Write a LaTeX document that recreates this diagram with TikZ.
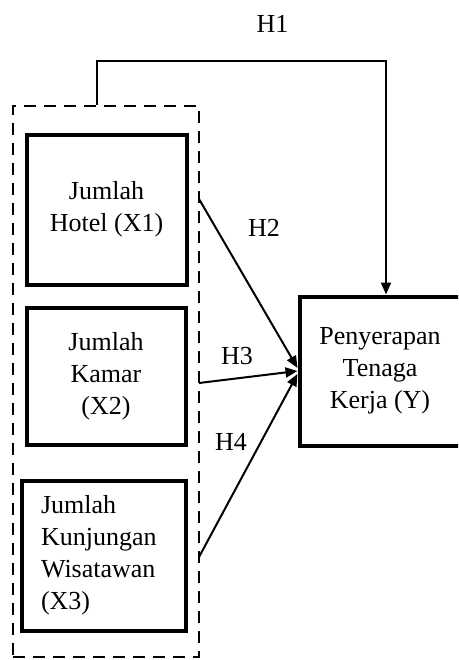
\documentclass[tikz,border=0pt]{standalone}
\usepackage{fontspec}
\setmainfont{Liberation Serif}
\usetikzlibrary{arrows.meta, calc}

\tikzset{
  box/.style={draw, line width=3pt, align=center, inner sep=0pt},
  grpbox/.style={draw, dash pattern=on 9pt off 6pt, line width=1.8pt},
  conn/.style={line width=1.5pt, -{Triangle[length=9pt,width=7.5pt]}},
  hlabel/.style={inner sep=0pt}
}

\begin{document}
\begin{tikzpicture}[x=0.75pt,y=0.75pt,yscale=-1,xscale=1, font=\fontsize{19.5}{24}\selectfont]
  \useasboundingbox (0,0) rectangle (458,660);
  \clip (0,0) rectangle (458,660);
  % kelompok variabel X (garis putus-putus)
  \node [grpbox, minimum width=139.5pt, minimum height=413.25pt] (grp) at (106,381.5) {};
  % variabel X
  \node [box, minimum width=120pt, minimum height=112.5pt] (x1) at (106.5,209.5) {Jumlah\\Hotel (X1)};
  \node [box, minimum width=119.25pt, minimum height=102.75pt] (x2) at (106,376) {Jumlah\\Kamar\\(X2)};
  \node [box, align=left, text width=94.5pt, inner xsep=13.9pt, minimum height=112.5pt] (x3) at (104,555.5) {Jumlah\\Kunjungan\\Wisatawan\\(X3)};
  % variabel Y
  \node [box, minimum width=120.75pt, minimum height=111.75pt] (y) at (380,371) {Penyerapan\\Tenaga\\Kerja (Y)};
  % titik bantu
  \coordinate (h1l) at (97,61);
  \coordinate (h1r) at (386,61);
  \coordinate (s2) at (199,199);
  \coordinate (s3) at (199,383);
  \coordinate (s4) at (199,557);
  % panah
  \draw [conn] (grp.north -| h1l) -- (h1l) -- (h1r) -- (h1r |- y.north);
  \draw [conn] (s2) -- ($(y.west)+(0,-3)$);
  \draw [conn] (s3) -- (y.west);
  \draw [conn] (s4) -- ($(y.west)+(0,3)$);
  % label
  \node [hlabel] (h1) at (272.5,23.5) {H1};
  \node [hlabel] (h2) at (264,228) {H2};
  \node [hlabel] (h3) at (237,356) {H3};
  \node [hlabel] (h4) at (231,442) {H4};
\end{tikzpicture}
\end{document}
